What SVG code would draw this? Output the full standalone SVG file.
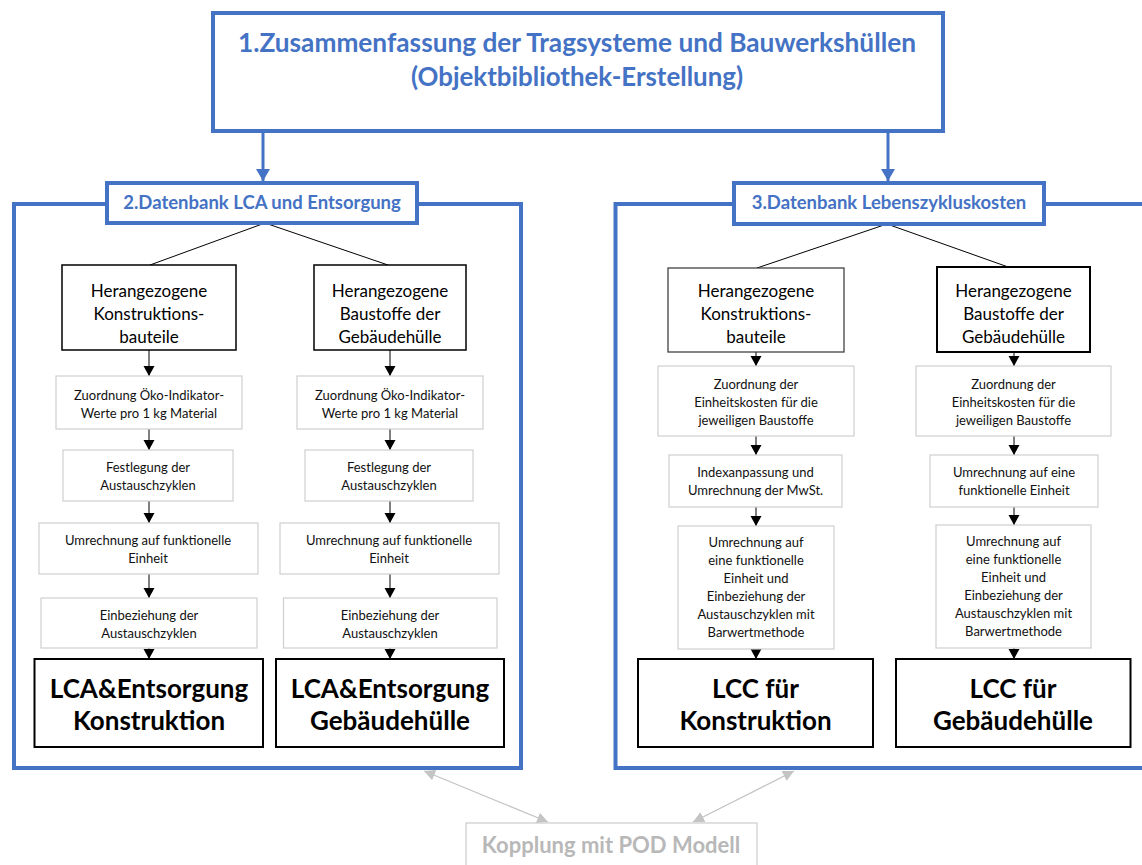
<svg xmlns="http://www.w3.org/2000/svg" width="1142" height="865" viewBox="0 0 1142 865">
<style>
  .blue{fill:none;stroke:#4472C4;stroke-width:4}
  .hdr{fill:#fff;stroke:#4472C4;stroke-width:4}
  .btxt{font-family:Lato,"Open Sans",sans-serif;font-weight:bold;fill:#4472C4;text-anchor:middle}
  .hbox{fill:#fff;stroke:#000;stroke-width:1.5}
  .hbox2{fill:#fff;stroke:#333;stroke-width:1.2}
  .sbox{fill:#fff;stroke:#cfcfcf;stroke-width:1.2}
  .rbox{fill:#fff;stroke:#000;stroke-width:2}
  .t16{font-family:Lato,"Open Sans",sans-serif;font-size:17px;fill:#000;text-anchor:middle}
  .t12{font-family:Lato,"Open Sans",sans-serif;font-size:13px;fill:#111;text-anchor:middle}
  .tb{font-family:Lato,"Open Sans",sans-serif;font-weight:bold;font-size:26px;fill:#000;text-anchor:middle}
  .conn{stroke:#000;stroke-width:1;fill:none}
  .arr{stroke:#000;stroke-width:1;fill:none;marker-end:url(#ah)}
  .barr{stroke:#4472C4;stroke-width:3;fill:none;marker-end:url(#bah)}
  .garr{stroke:#c4c4c4;stroke-width:1.3;fill:none;marker-end:url(#gah);marker-start:url(#gahs)}
</style>
<defs>
  <marker id="ah" markerUnits="userSpaceOnUse" markerWidth="12" markerHeight="12" refX="10" refY="5.5" orient="auto">
    <path d="M0,0 L10,5.5 L0,11 Z" fill="#000"/>
  </marker>
  <marker id="bah" markerUnits="userSpaceOnUse" markerWidth="16" markerHeight="16" refX="12" refY="7" orient="auto">
    <path d="M0,0 L12,7 L0,14 Z" fill="#4472C4"/>
  </marker>
  <marker id="gah" markerUnits="userSpaceOnUse" markerWidth="14" markerHeight="14" refX="11" refY="5.5" orient="auto">
    <path d="M0,0 L11,5.5 L0,11 Z" fill="#c4c4c4"/>
  </marker>
  <marker id="gahs" markerUnits="userSpaceOnUse" markerWidth="14" markerHeight="14" refX="0" refY="5.5" orient="auto">
    <path d="M11,0 L0,5.5 L11,11 Z" fill="#c4c4c4"/>
  </marker>
</defs>
<rect width="1142" height="865" fill="#fff"/>

<!-- panels -->
<g id="panel-lca">
  <rect class="blue" x="14" y="204" width="507" height="564"/>
</g>
<g id="panel-lcc">
  <rect class="blue" x="615.5" y="204" width="540" height="564"/>
</g>

<!-- connectors -->
<g id="connectors">
  <line class="barr" x1="263" y1="131" x2="263" y2="181"/>
  <line class="barr" x1="888" y1="131" x2="888" y2="181"/>
  <line class="conn" x1="265" y1="223" x2="150" y2="265"/>
  <line class="conn" x1="265" y1="223" x2="388" y2="265"/>
  <line class="conn" x1="887" y1="224" x2="757" y2="268"/>
  <line class="conn" x1="887" y1="224" x2="1011" y2="268"/>
  <line class="arr" x1="149" y1="350" x2="149" y2="376"/>
  <line class="arr" x1="149" y1="429" x2="149" y2="450"/>
  <line class="arr" x1="149" y1="501" x2="149" y2="523"/>
  <line class="arr" x1="149" y1="574" x2="149" y2="598"/>
  <line class="arr" x1="149" y1="648" x2="149" y2="659"/>
  <line class="arr" x1="390" y1="350" x2="390" y2="376"/>
  <line class="arr" x1="390" y1="429" x2="390" y2="450"/>
  <line class="arr" x1="390" y1="501" x2="390" y2="523"/>
  <line class="arr" x1="390" y1="574" x2="390" y2="598"/>
  <line class="arr" x1="390" y1="648" x2="390" y2="659"/>
  <line class="arr" x1="756" y1="352" x2="756" y2="366"/>
  <line class="arr" x1="756" y1="436" x2="756" y2="455"/>
  <line class="arr" x1="756" y1="507" x2="756" y2="526"/>
  <line class="arr" x1="756" y1="649" x2="756" y2="659"/>
  <line class="arr" x1="1014" y1="352" x2="1014" y2="366"/>
  <line class="arr" x1="1014" y1="436" x2="1014" y2="455"/>
  <line class="arr" x1="1014" y1="507" x2="1014" y2="525"/>
  <line class="arr" x1="1014" y1="648" x2="1014" y2="659"/>
  <line class="garr" x1="424" y1="771" x2="548" y2="822"/>
  <line class="garr" x1="794" y1="771" x2="693" y2="822"/>
</g>

<!-- top box -->
<g id="n-top">
  <rect class="hdr" x="213" y="13" width="730" height="118"/>
  <text class="btxt" x="577" y="52" font-size="27" textLength="678" lengthAdjust="spacingAndGlyphs">1.Zusammenfassung der Tragsysteme und Bauwerkshüllen</text>
  <text class="btxt" x="577" y="86" font-size="27" textLength="332" lengthAdjust="spacingAndGlyphs">(Objektbibliothek-Erstellung)</text>
</g>

<!-- headers -->
<g id="n-hdr-lca">
  <rect class="hdr" x="107" y="183" width="310" height="40"/>
  <text class="btxt" x="262" y="209" font-size="18.5">2.Datenbank LCA und Entsorgung</text>
</g>
<g id="n-hdr-lcc">
  <rect class="hdr" x="734" y="183" width="310" height="41"/>
  <text class="btxt" x="889" y="209" font-size="18.5">3.Datenbank Lebenszykluskosten</text>
</g>

<!-- left panel nodes -->
<g id="n-l1">
  <rect class="hbox" x="62" y="265" width="174" height="85"/>
  <text class="t16" x="149" y="297">Herangezogene</text>
  <text class="t16" x="149" y="320">Konstruktions-</text>
  <text class="t16" x="149" y="343">bauteile</text>
</g>
<g id="n-l2">
  <rect class="hbox" x="314" y="265" width="152" height="85"/>
  <text class="t16" x="390" y="297">Herangezogene</text>
  <text class="t16" x="390" y="320">Baustoffe der</text>
  <text class="t16" x="390" y="343">Gebäudehülle</text>
</g>
<g id="n-l1a">
  <rect class="sbox" x="56" y="376" width="186" height="53"/>
  <text class="t12" x="149" y="400">Zuordnung Öko-Indikator-</text>
  <text class="t12" x="149" y="418">Werte pro 1 kg Material</text>
</g>
<g id="n-l2a">
  <rect class="sbox" x="297" y="376" width="186" height="53"/>
  <text class="t12" x="390" y="400">Zuordnung Öko-Indikator-</text>
  <text class="t12" x="390" y="418">Werte pro 1 kg Material</text>
</g>
<g id="n-l1b">
  <rect class="sbox" x="63" y="450" width="170" height="51"/>
  <text class="t12" x="148" y="471.5">Festlegung der</text>
  <text class="t12" x="148" y="489.5">Austauschzyklen</text>
</g>
<g id="n-l2b">
  <rect class="sbox" x="305" y="450" width="168" height="51"/>
  <text class="t12" x="389" y="471.5">Festlegung der</text>
  <text class="t12" x="389" y="489.5">Austauschzyklen</text>
</g>
<g id="n-l1c">
  <rect class="sbox" x="39" y="523" width="219" height="51"/>
  <text class="t12" x="148" y="544.5">Umrechnung auf funktionelle</text>
  <text class="t12" x="148" y="562.5">Einheit</text>
</g>
<g id="n-l2c">
  <rect class="sbox" x="280" y="523" width="219" height="51"/>
  <text class="t12" x="389" y="544.5">Umrechnung auf funktionelle</text>
  <text class="t12" x="389" y="562.5">Einheit</text>
</g>
<g id="n-l1d">
  <rect class="sbox" x="41" y="598" width="216" height="50"/>
  <text class="t12" x="149" y="619.5">Einbeziehung der</text>
  <text class="t12" x="149" y="637.5">Austauschzyklen</text>
</g>
<g id="n-l2d">
  <rect class="sbox" x="283.5" y="598" width="213.5" height="50"/>
  <text class="t12" x="390" y="619.5">Einbeziehung der</text>
  <text class="t12" x="390" y="637.5">Austauschzyklen</text>
</g>
<g id="n-l1r">
  <rect class="rbox" x="34.5" y="659" width="228.5" height="88"/>
  <text class="tb" x="149" y="698">LCA&amp;Entsorgung</text>
  <text class="tb" x="149" y="730">Konstruktion</text>
</g>
<g id="n-l2r">
  <rect class="rbox" x="276" y="659" width="228" height="88"/>
  <text class="tb" x="390" y="698">LCA&amp;Entsorgung</text>
  <text class="tb" x="390" y="730">Gebäudehülle</text>
</g>

<!-- right panel nodes -->
<g id="n-r1">
  <rect class="hbox2" x="668" y="268" width="176" height="84"/>
  <text class="t16" x="756" y="297">Herangezogene</text>
  <text class="t16" x="756" y="320">Konstruktions-</text>
  <text class="t16" x="756" y="343">bauteile</text>
</g>
<g id="n-r2">
  <rect class="rbox" x="937" y="267" width="153" height="85"/>
  <text class="t16" x="1013.5" y="297">Herangezogene</text>
  <text class="t16" x="1013.5" y="320">Baustoffe der</text>
  <text class="t16" x="1013.5" y="343">Gebäudehülle</text>
</g>
<g id="n-r1a">
  <rect class="sbox" x="658" y="366" width="196" height="70"/>
  <text class="t12" x="756" y="388.5">Zuordnung der</text>
  <text class="t12" x="756" y="406.5">Einheitskosten für die</text>
  <text class="t12" x="756" y="424.5">jeweiligen Baustoffe</text>
</g>
<g id="n-r2a">
  <rect class="sbox" x="916" y="366" width="195" height="70"/>
  <text class="t12" x="1013.5" y="388.5">Zuordnung der</text>
  <text class="t12" x="1013.5" y="406.5">Einheitskosten für die</text>
  <text class="t12" x="1013.5" y="424.5">jeweiligen Baustoffe</text>
</g>
<g id="n-r1b">
  <rect class="sbox" x="669" y="455" width="173" height="52"/>
  <text class="t12" x="755.5" y="477">Indexanpassung und</text>
  <text class="t12" x="755.5" y="495">Umrechnung der MwSt.</text>
</g>
<g id="n-r2b">
  <rect class="sbox" x="930" y="455" width="168" height="52"/>
  <text class="t12" x="1014" y="477">Umrechnung auf eine</text>
  <text class="t12" x="1014" y="495">funktionelle Einheit</text>
</g>
<g id="n-r1c">
  <rect class="sbox" x="678" y="526" width="156" height="123"/>
  <text class="t12" x="756" y="547">Umrechnung auf</text>
  <text class="t12" x="756" y="565">eine funktionelle</text>
  <text class="t12" x="756" y="583">Einheit und</text>
  <text class="t12" x="756" y="601">Einbeziehung der</text>
  <text class="t12" x="756" y="619">Austauschzyklen mit</text>
  <text class="t12" x="756" y="637">Barwertmethode</text>
</g>
<g id="n-r2c">
  <rect class="sbox" x="936" y="525" width="155" height="123"/>
  <text class="t12" x="1013.5" y="546">Umrechnung auf</text>
  <text class="t12" x="1013.5" y="564">eine funktionelle</text>
  <text class="t12" x="1013.5" y="582">Einheit und</text>
  <text class="t12" x="1013.5" y="600">Einbeziehung der</text>
  <text class="t12" x="1013.5" y="618">Austauschzyklen mit</text>
  <text class="t12" x="1013.5" y="636">Barwertmethode</text>
</g>
<g id="n-r1r">
  <rect class="rbox" x="638" y="659" width="235" height="88"/>
  <text class="tb" x="755.5" y="698">LCC für</text>
  <text class="tb" x="755.5" y="730">Konstruktion</text>
</g>
<g id="n-r2r">
  <rect class="rbox" x="896" y="659" width="234.5" height="88"/>
  <text class="tb" x="1013" y="698">LCC für</text>
  <text class="tb" x="1013" y="730">Gebäudehülle</text>
</g>

<!-- coupling -->
<g id="n-pod">
  <rect x="466" y="823" width="291" height="60" fill="#fff" stroke="#cfcfcf" stroke-width="1.3"/>
  <text x="611" y="853" font-family="Lato,'Open Sans',sans-serif" font-weight="bold" font-size="22" fill="#b8b8b8" text-anchor="middle">Kopplung mit POD Modell</text>
</g>
</svg>
